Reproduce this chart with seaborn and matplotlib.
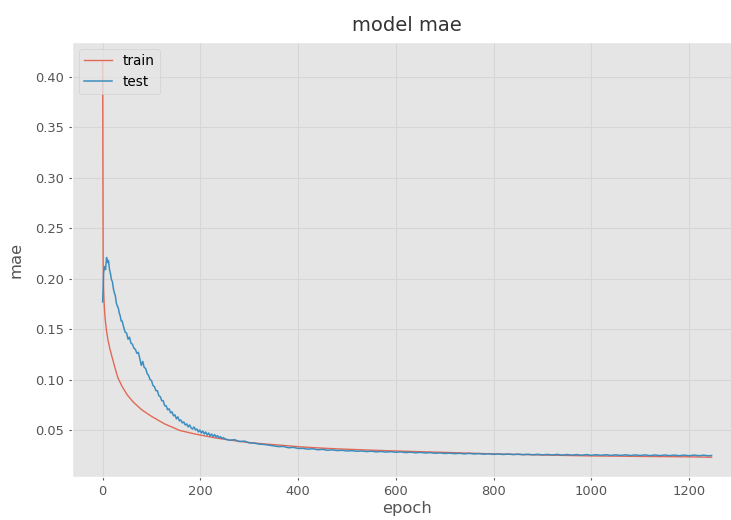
import matplotlib
matplotlib.use("Agg")
import matplotlib.pyplot as plt
import seaborn as sns

# ---- data ----
train_epoch = [0, 1, 2, 3, 4, 5, 6, 8, 11, 15, 20, 25, 31, 40, 50, 62, 80, 100, 127,
               158, 189, 230, 260, 295, 330, 363, 404, 450, 485, 550, 600, 700, 800,
               900, 1000, 1100, 1200, 1246]
train_mae = [0.415, 0.215, 0.190, 0.176, 0.168, 0.161, 0.156, 0.148, 0.139, 0.130,
             0.121, 0.112, 0.102, 0.093, 0.085, 0.078, 0.070, 0.0635, 0.056, 0.0495,
             0.046, 0.0422, 0.0400, 0.0378, 0.0362, 0.0350, 0.0333, 0.0320, 0.0312,
             0.0300, 0.0292, 0.0278, 0.0263, 0.0252, 0.0243, 0.0238, 0.0234, 0.0230]

test_epoch = ([0, 2, 4, 6, 8, 10, 12, 14, 16, 18, 20, 22, 24, 26, 28, 30, 32, 34, 36, 38, 40,
               43, 46, 49, 52, 55, 58, 61, 64, 67, 70, 73, 76, 79, 82, 85, 88, 91, 94, 97,
               100, 103, 106, 109, 112, 115, 118, 121, 124, 127, 130, 133, 136, 139, 142,
               145, 148, 151, 154, 157, 160, 163, 166, 169, 172, 175, 178, 181, 184, 187,
               190, 193, 196, 199, 202, 205, 208, 211, 214, 217, 220, 223, 226, 229, 232,
               235, 238, 241, 244, 247]
              + [250, 260, 270, 280, 290, 300, 310, 320, 330, 340, 350, 360, 370, 380, 390,
                 400, 410, 420, 430, 440, 450, 460, 470, 480, 490, 500, 510, 520, 530, 540,
                 550, 560, 570, 580, 590, 600, 610, 620, 630, 640, 650, 660, 670, 680, 690,
                 700, 710, 720, 730, 740, 750, 760, 770, 780, 790, 800, 810, 820, 830, 840,
                 850, 860, 870, 880, 890, 900, 910, 920, 930, 940, 950, 960, 970, 980, 990,
                 1000, 1010, 1020, 1030, 1040, 1050, 1060, 1070, 1080, 1090, 1100, 1110,
                 1120, 1130, 1140, 1150, 1160, 1170, 1180, 1190, 1200, 1210, 1220, 1230,
                 1240, 1246])
test_mae = ([0.177, 0.206, 0.212, 0.209, 0.221, 0.216, 0.218, 0.209, 0.205, 0.199, 0.197,
             0.190, 0.186, 0.183, 0.176, 0.173, 0.171, 0.166, 0.163, 0.158, 0.158,
             0.152, 0.147, 0.146, 0.140, 0.142, 0.136, 0.135, 0.131, 0.130, 0.126, 0.127,
             0.121, 0.114, 0.118, 0.112, 0.111, 0.106, 0.104, 0.100, 0.099, 0.094, 0.093,
             0.089, 0.089, 0.084, 0.083, 0.079, 0.079, 0.074, 0.074, 0.070, 0.071, 0.067,
             0.068, 0.064, 0.065, 0.061, 0.063, 0.059, 0.060, 0.057, 0.058, 0.055, 0.056,
             0.053, 0.055, 0.052, 0.051, 0.053, 0.050, 0.051, 0.048, 0.050, 0.047, 0.049,
             0.046, 0.048, 0.045, 0.047, 0.044, 0.046, 0.0435, 0.0455, 0.043, 0.0445,
             0.042, 0.0435, 0.0415, 0.0425]
            + [0.0412, 0.0398, 0.0404, 0.0385, 0.0390, 0.0372, 0.0370, 0.0360, 0.0357,
               0.0350, 0.0344, 0.0335, 0.0337, 0.0324, 0.0328, 0.0317, 0.0318, 0.0310,
               0.0314, 0.0304, 0.0308, 0.0299, 0.0303, 0.0296, 0.0299, 0.0292, 0.0295,
               0.0289, 0.0292, 0.0286, 0.0290, 0.0283, 0.0287, 0.0281, 0.0285, 0.0279,
               0.0283, 0.0276, 0.0280, 0.0274, 0.0278, 0.0272, 0.0276, 0.0269, 0.0273,
               0.0267, 0.0271, 0.0265, 0.0269, 0.0263, 0.0268, 0.0262, 0.0266, 0.0260,
               0.0265, 0.0258, 0.0263, 0.0257, 0.0262, 0.0256, 0.0261, 0.0255, 0.0260,
               0.0254, 0.0259, 0.0253, 0.0258, 0.0252, 0.0258, 0.0251, 0.0257, 0.0251,
               0.0256, 0.0250, 0.0256, 0.0249, 0.0255, 0.0249, 0.0255, 0.0248, 0.0254,
               0.0248, 0.0254, 0.0247, 0.0253, 0.0247, 0.0253, 0.0246, 0.0252, 0.0246,
               0.0252, 0.0246, 0.0251, 0.0245, 0.0251, 0.0245, 0.0251, 0.0245, 0.0250,
               0.0244, 0.0247])

series_labels = ["train", "test"]
title_text = "model mae"
x_label = "epoch"
y_label = "mae"

# ---- style ----
plt.style.use("ggplot")
plt.rcParams["font.family"] = ["DejaVu Sans"]
plt.rcParams["grid.color"] = "#d6d6d6"
plt.rcParams["grid.linewidth"] = 0.8

fig = plt.figure(figsize=(7.31, 5.20), dpi=100)
ax = fig.add_axes([72.2 / 731, 43 / 520, (742 - 72.2) / 731, (477 - 42) / 520])

sns.lineplot(x=train_epoch, y=train_mae, ax=ax, label=series_labels[0],
             color="#E24A33", linewidth=1.0, alpha=0.8, estimator=None, sort=False)
sns.lineplot(x=test_epoch, y=test_mae, ax=ax, label=series_labels[1],
             color="#348ABD", linewidth=1.1, alpha=0.95, estimator=None, sort=False)

ax.set_xlim(-62.3, 1308.3)
ax.set_ylim(0.0034, 0.4346)
ax.set_yticks([0.05, 0.10, 0.15, 0.20, 0.25, 0.30, 0.35, 0.40])
ax.set_xticks([0, 200, 400, 600, 800, 1000, 1200])
ax.tick_params(axis="both", labelsize=9.4, length=2.5, colors="#555555")

ax.set_title(title_text, fontsize=14, color="#333333", pad=8)
ax.set_xlabel(x_label, fontsize=11.8, color="#555555", labelpad=2)
ax.set_ylabel(y_label, fontsize=11.8, color="#555555", labelpad=8)

leg = ax.legend(loc="upper left", fontsize=9.8)

fig.savefig("out.png", dpi=100)
